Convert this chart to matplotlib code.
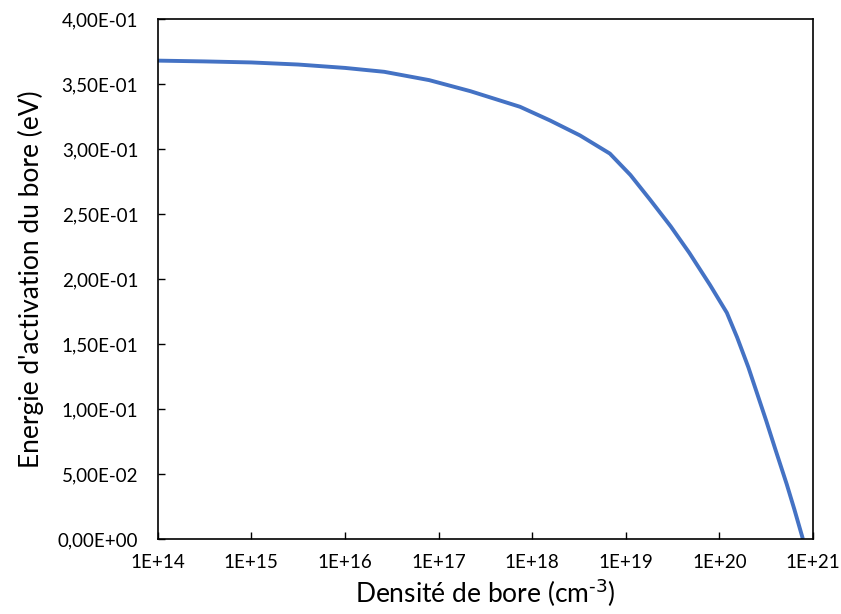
import matplotlib.pyplot as plt
import matplotlib.ticker as mticker
import numpy as np

# boron density (log10 of cm^-3) and activation energy (eV)
log_density = [14.0, 14.5, 15.0, 15.5, 16.0, 16.42, 16.9, 17.34, 17.87, 18.19, 18.51, 18.83,
               19.05, 19.26, 19.48, 19.68, 19.9, 20.08, 20.19, 20.31, 20.5, 20.6, 20.72, 20.8, 20.892]
energy = [0.368, 0.3674, 0.3666, 0.365, 0.3624, 0.3594, 0.353, 0.3445, 0.3325, 0.322, 0.3105, 0.2965,
          0.28, 0.261, 0.2405, 0.22, 0.1954, 0.174, 0.155, 0.132, 0.091, 0.0685, 0.042, 0.023, 0.0]

x_ticks = [1e14, 1e15, 1e16, 1e17, 1e18, 1e19, 1e20, 1e21]
y_ticks = np.arange(0, 0.4001, 0.05)

plt.rcParams['font.family'] = ['Lato', 'DejaVu Sans']

fig = plt.figure(figsize=(8.41, 6.14), dpi=100)
ax = fig.add_axes([0.1875, 0.1222, 0.7792, 0.8468])

ax.plot(10 ** np.array(log_density), energy, color='#4472C4', linewidth=2.8,
        solid_capstyle='butt', solid_joinstyle='round')

ax.set_xscale('log')
ax.set_xlim(1e14, 1e21)
ax.set_ylim(0, 0.4)
ax.set_xticks(x_ticks)
ax.xaxis.set_minor_locator(mticker.NullLocator())
ax.set_yticks(y_ticks)
ax.xaxis.set_major_formatter(mticker.FuncFormatter(lambda v, p: f'{v:.0E}'))
ax.yaxis.set_major_formatter(mticker.FuncFormatter(lambda v, p: f'{v:.2E}'.replace('.', ',')))

ax.tick_params(direction='in', length=5, width=1, labelsize=13.5, colors='black')
ax.tick_params(axis='x', pad=11)
ax.tick_params(axis='y', pad=14)
for s in ax.spines.values():
    s.set_linewidth(1.2)

ax.set_xlabel('Densité de bore (cm$^{\\text{-3}}$)', fontsize=19, labelpad=4)
ax.set_ylabel("Energie d'activation du bore (eV)", fontsize=19, labelpad=10)

fig.savefig('out.png', dpi=100)
